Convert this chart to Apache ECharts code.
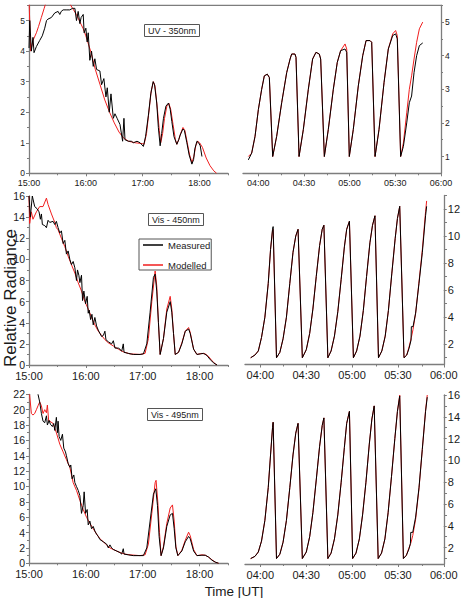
<!DOCTYPE html>
<html>
<head>
<meta charset="utf-8">
<script src="https://cdn.jsdelivr.net/npm/echarts@6/dist/echarts.min.js"></script>
<style>
  html, body { margin: 0; padding: 0; background: #fff; }
  #chart { width: 463px; height: 598px; }
</style>
</head>
<body>
<div id="chart"></div>
<script>
// evening passes: [minutes since 00:00 UT, relative radiance]
const uvEveMeas = [[900,4.1],[900.8,5.0],[902.5,4.0],[904.2,4.45],[905.3,3.95],[907.8,4.15],[911.3,4.35],[914,4.5],[916.6,4.75],[918.5,5.0],[920.1,5.05],[923.6,5.1],[927.2,5.25],[930.7,5.3],[932.5,5.2],[934,5.3],[936,5.35],[940,5.35],[943,5.35],[946,5.4],[948.4,5.4],[950.1,5.0],[951.9,5.3],[953.7,4.9],[955,5.1],[957.2,5.2],[958.2,4.6],[960,4.75],[961.4,4.3],[962.5,4.6],[964.2,3.7],[966,4.0],[967.8,3.5],[969.5,3.75],[971.3,3.4],[974.8,3.35],[976.6,2.9],[979,3.1],[981.2,2.5],[982.6,2.8],[984.7,2.0],[986.5,2.6],[989,1.8],[990.7,1.95],[993,1.8],[996,1.6],[998.8,1.05],[1000.2,1.8],[1001.3,1.1],[1004.8,1.05],[1008,1.05],[1010.1,1.0],[1014,1.05],[1017.2,1.0],[1020.7,0.88],[1023,1.2],[1026,1.9],[1028.5,2.6],[1031,3.0],[1032.5,2.9],[1034.8,2.3],[1036.5,1.5],[1038.4,0.9],[1040,1.3],[1041.9,1.8],[1044.5,2.2],[1047.2,2.3],[1049,2.1],[1050.7,1.7],[1053,1.2],[1056,0.95],[1058,1.1],[1059.5,1.25],[1062.4,1.45],[1064,1.4],[1066.6,1.0],[1069,0.6],[1071.9,0.3],[1073.7,0.45],[1075,0.8],[1077.2,1.05],[1079,1.0],[1080.7,0.9],[1082.5,0.55]];
const uvEveModel = [[900,5.7],[901.8,4.0],[904.2,4.35],[907.8,4.6],[910,4.8],[913,5.1],[916,5.4],[918,5.6],[930,6.3],[942,5.6],[946,5.4],[950,5.2],[953,5.0],[957,4.75],[960,4.5],[965,4.0],[970,3.4],[975,2.9],[980,2.4],[985,2.0],[990,1.65],[995,1.35],[1000,1.15],[1005,1.05],[1012,1.0],[1020,0.97],[1021.5,0.95],[1024,1.3],[1026.5,2.0],[1029,2.7],[1031.3,3.0],[1033,2.85],[1035.5,2.1],[1037.5,1.4],[1039,1.0],[1041,1.3],[1043,1.8],[1045.5,2.2],[1047.5,2.3],[1049.5,2.1],[1052,1.6],[1054.5,1.1],[1056,0.95],[1058,1.1],[1060,1.3],[1062.5,1.5],[1064.5,1.4],[1067,1.0],[1069.5,0.6],[1072,0.35],[1074,0.55],[1076,0.9],[1078,1.05],[1080,1.0],[1083,0.85],[1087,0.5],[1091,0.25],[1095,0.08],[1098,0.0]];

const vis450EveMeas = [[900,16.0],[901.4,14.0],[903.5,16.0],[906,15.0],[908.5,14.8],[910.6,14.5],[912,13.8],[913.1,14.3],[914.1,13.3],[916.6,13.2],[918.4,13.0],[920.1,13.7],[921.9,13.5],[925.4,13.6],[927.2,13.3],[928.9,13.6],[930.7,13.0],[932.5,12.5],[934.2,12.7],[936,11.5],[937.8,11.8],[939.5,10.5],[941.3,10.8],[943.1,10.0],[944.8,9.5],[946.6,9.8],[948.4,9.2],[950.1,8.0],[951.2,9.0],[952.6,8.5],[953.7,7.8],[955.4,8.5],[956.5,6.1],[957.9,7.0],[959.7,5.8],[961.4,6.5],[962.5,4.9],[963.5,5.2],[965,4.3],[966.4,4.8],[967.8,3.8],[969.5,4.5],[971.3,3.7],[973.1,3.3],[974.8,3.0],[976.6,2.7],[978.5,2.8],[980.1,3.2],[981.2,2.4],[983.7,2.2],[987.2,2.0],[989,2.3],[990.7,1.6],[994.3,1.6],[996,1.5],[997.8,1.3],[999.5,2.0],[1000.3,1.2],[1004.8,1.1],[1010.1,1.0],[1017.2,1.0],[1020.7,1.05],[1024.3,2.0],[1027.8,5.0],[1031.3,8.3],[1033.1,8.6],[1034.8,7.0],[1036.6,4.0],[1038.4,1.0],[1041.9,2.5],[1045.4,5.0],[1049,6.0],[1050.7,5.0],[1052.5,3.0],[1054.3,1.0],[1057.8,1.2],[1061.3,2.0],[1064.9,3.2],[1068.4,3.4],[1070.1,3.0],[1073.7,1.5],[1077.2,1.0],[1080.7,1.05],[1084.3,1.1],[1087.8,0.9],[1091.3,0.5],[1094.9,0.2],[1098.4,0.0]];
const vis450EveModel = [[900,16.0],[900.7,13.4],[902.5,14.5],[904.2,13.8],[907.8,14.5],[911.3,15.0],[914.8,15.0],[918.4,15.8],[920.1,15.2],[923.7,14.3],[927.2,13.5],[928.9,13.0],[930.7,12.8],[934.2,12.0],[937.8,11.2],[941.3,10.3],[944.8,9.5],[948.4,8.7],[951.9,7.8],[955.4,7.0],[959,6.0],[962.5,5.3],[966,4.5],[969.5,3.8],[973.1,3.2],[976.6,2.8],[980.1,2.4],[983.7,2.1],[989,1.8],[994.3,1.5],[999.5,1.25],[1006.6,1.05],[1017.2,1.0],[1022.5,1.1],[1026,2.5],[1029.6,6.0],[1033.1,8.9],[1034.8,7.5],[1036.6,4.0],[1038.4,1.0],[1041.9,2.5],[1045.4,5.3],[1049,6.5],[1050.7,5.3],[1052.5,3.0],[1054.3,1.0],[1057.8,1.2],[1061.3,2.1],[1064.9,3.2],[1068.4,3.55],[1070.1,3.1],[1073.7,1.5],[1077.2,1.0],[1082.5,1.1],[1086,1.05],[1089.6,0.8],[1093.1,0.4],[1096.6,0.1],[1098.4,0.0]];

const vis495EveMeas = [[909.5,22.0],[911.3,21.0],[913.1,19.5],[914.8,18.5],[916.6,18.3],[918.4,19.2],[919.4,18.0],[921.2,18.6],[922.6,18.1],[924.7,17.8],[926.1,18.2],[927.2,17.3],[928.9,19.0],[930,17.0],[930.7,18.5],[931.8,16.5],[933.5,16.0],[935.3,16.8],[936.7,15.0],[938.5,14.5],[939.5,14.0],[941.3,13.0],[943.1,12.5],[944.1,12.8],[945.5,11.0],[947.3,11.5],[948.4,10.5],[950.1,10.0],[951.9,9.5],[953.7,8.8],[955.4,6.5],[957.2,7.5],[958.2,9.3],[959.7,6.5],[961.4,7.0],[962.5,5.0],[964.2,5.5],[966,4.5],[967.8,4.8],[969.5,4.2],[971.3,3.8],[973.1,3.5],[974.8,3.1],[978.4,2.8],[981.9,2.5],[983.7,2.0],[985.4,2.4],[987.2,2.0],[989,1.8],[992.5,1.6],[996,1.4],[997.8,1.2],[999.5,1.9],[1000.3,1.2],[1004.8,1.1],[1010.1,1.0],[1020.7,1.0],[1024.3,2.0],[1027.8,5.5],[1031.3,9.0],[1033.8,9.7],[1035.6,7.5],[1037.3,3.5],[1039.4,1.0],[1041.9,2.0],[1045.4,4.8],[1049,6.3],[1051.4,6.5],[1053.2,4.5],[1055,2.0],[1057.1,1.0],[1061.3,1.6],[1064.9,2.8],[1068.4,3.5],[1070.1,3.2],[1073.7,1.6],[1077.2,1.0],[1082.5,1.05],[1086,1.05],[1089.6,0.8],[1093.1,0.4],[1096.6,0.15],[1100.1,0.0]];
const vis495EveModel = [[900,22.0],[900.7,21.9],[902.5,19.5],[904.2,19.3],[906,19.5],[907.8,20.0],[909.5,20.5],[911.3,21.0],[913.1,20.5],[914.8,19.5],[916.6,20.0],[918.4,19.6],[919.4,20.6],[920.8,18.5],[921.9,18.5],[925.4,18.2],[928.9,17.0],[932.5,15.5],[936,14.5],[939.5,13.5],[943.1,12.5],[946.6,10.5],[950.1,9.5],[953.7,8.2],[957.2,7.0],[960.7,6.0],[964.2,5.2],[967.8,4.5],[971.3,3.8],[974.8,3.2],[978.4,2.8],[981.9,2.4],[985.4,2.0],[990.7,1.7],[996,1.4],[1001.3,1.2],[1006.6,1.1],[1017.2,1.0],[1022.5,1.1],[1026,2.5],[1029.6,6.5],[1033.1,10.5],[1034.1,10.8],[1035.9,8.0],[1037.7,4.0],[1039.4,1.0],[1041.9,2.2],[1045.4,5.2],[1049,7.2],[1051.4,7.6],[1053.2,5.5],[1055,2.2],[1057.1,1.0],[1061.3,1.7],[1064.9,3.0],[1068.4,4.05],[1070.1,3.6],[1073.7,1.8],[1077.2,1.0],[1082.5,1.1],[1086,1.05],[1089.6,0.8],[1093.1,0.45],[1096.6,0.15],[1100.1,0.0]];

// morning passes: shared time (minutes since 00:00 UT) per panel
const uvMornT = [233.5,235.7,237.9,240.1,242.25,244.0,245.97,247.3,249.5,252.1,255.4,258.7,260.9,261.95,264.1,264.8,266.8,269.6,272.9,275.7,277.9,280.1,281.0,283.4,286.0,289.3,291.9,294.1,297.0,298.1,299.8,302.4,305.7,308.6,310.8,313.4,314.5,316.7,319.3,322.6,325.4,328.3,330.2,331.3,333.5,335.3,337.5,339.2,340.7,342.3,344.0,345.8,348.0];
const uvMornMeas = [0.9,1.1,1.6,2.4,3.0,3.4,3.45,3.35,1.0,1.6,2.6,3.5,3.9,4.05,4.05,3.95,1.0,1.8,3.0,3.9,4.1,4.05,3.9,1.0,1.8,3.0,3.8,4.15,4.2,4.1,1.0,1.8,3.1,4.0,4.45,4.45,4.4,1.0,1.8,3.2,4.2,4.6,4.65,4.5,1.0,1.3,2.0,2.6,2.8,3.5,4.0,4.3,4.38];
const uvMornModel = [1.0,1.1,1.6,2.4,3.0,3.4,3.45,3.35,1.0,1.6,2.6,3.5,3.9,4.05,4.05,3.95,1.0,1.8,3.0,3.9,4.1,4.05,3.9,1.0,1.8,3.0,3.8,4.15,4.35,4.2,1.0,1.8,3.1,4.0,4.45,4.45,4.4,1.0,1.8,3.2,4.2,4.65,4.75,4.6,1.0,1.4,2.3,3.0,3.4,3.9,4.4,4.8,5.0];

const vis450MornT = [233.7,236.5,238.7,240.8,243.0,245.2,246.7,248.0,248.4,250.6,252.8,254.9,257.1,259.3,261.4,263.2,264.7,267.5,270.1,272.3,274.4,276.6,278.8,280.5,281.6,284.2,286.3,288.5,290.7,292.9,295.0,296.5,298.3,300.9,303.0,305.2,307.4,309.5,311.7,313.4,315.0,317.3,319.5,321.7,323.8,326.0,328.2,329.7,331.2,334.0,335.8,337.3,338.6,338.8,339.9,341.6,343.8,346.0,348.1,348.8];
const vis450MornMeas = [1.0,1.2,1.5,2.5,4.0,6.5,9.0,10.5,10.7,1.0,1.4,2.4,4.0,6.5,8.8,10.0,10.5,1.0,1.6,2.8,4.6,7.0,9.3,10.5,10.8,1.0,1.5,2.6,4.4,6.8,9.2,10.5,11.1,1.0,1.5,2.6,4.5,7.0,9.5,10.8,11.5,1.0,1.5,2.6,4.5,7.2,9.8,11.3,12.2,1.0,1.2,1.7,2.3,3.3,3.3,4.3,6.5,8.8,11.5,12.2];
const vis450MornModel = [1.0,1.2,1.5,2.5,4.0,6.5,9.0,10.4,10.5,1.0,1.4,2.4,4.0,6.5,8.8,10.0,10.5,1.0,1.6,2.8,4.6,7.0,9.3,10.5,10.8,1.0,1.5,2.6,4.4,6.8,9.2,10.5,11.1,1.0,1.5,2.6,4.5,7.0,9.5,10.8,11.5,1.0,1.5,2.6,4.5,7.2,9.8,11.3,12.2,1.0,1.2,1.8,2.4,2.5,3.1,4.3,6.6,9.0,11.8,12.6];

const vis495MornT = [233.7,236.5,238.7,240.8,243.0,245.2,246.7,248.0,248.4,250.6,252.8,254.9,257.1,259.3,261.4,263.2,264.7,267.5,270.1,272.3,274.4,276.6,278.8,280.5,281.6,284.2,286.3,288.5,290.7,292.9,295.0,296.5,298.3,300.4,302.6,304.8,306.9,309.1,311.3,313.0,314.5,317.1,319.3,321.5,323.6,325.8,328.0,329.7,331.2,333.6,335.55,337.3,338.2,338.4,339.7,341.6,343.8,345.95,348.1,349.2];
const vis495MornMeas = [1.0,1.2,1.6,2.6,4.5,7.5,10.5,13.0,13.5,1.0,1.4,2.5,4.5,7.5,10.5,12.5,13.4,1.0,1.6,3.0,5.2,8.2,11.3,13.2,13.9,1.0,1.5,2.8,5.0,8.0,11.2,13.4,14.5,1.0,1.5,2.8,5.0,8.0,11.5,13.8,15.0,1.0,1.5,2.8,5.2,8.5,12.0,14.5,15.9,1.0,1.3,1.9,2.4,3.4,3.4,4.8,7.5,11.0,14.5,15.8];
const vis495MornModel = [1.0,1.2,1.6,2.6,4.5,7.5,10.5,13.0,13.5,1.0,1.4,2.5,4.5,7.5,10.5,12.5,13.4,1.0,1.6,3.0,5.2,8.2,11.3,13.2,13.9,1.0,1.5,2.8,5.0,8.0,11.2,13.4,14.5,1.0,1.5,2.8,5.0,8.0,11.5,13.8,15.0,1.0,1.5,2.8,5.2,8.5,12.0,14.5,16.0,1.0,1.3,2.0,2.3,2.4,3.1,4.6,7.4,11.0,14.6,16.0];

// tick positions / labels
const eveTicks = [900, 960, 1020, 1080];
const eveMinor = [930, 990, 1050, 1110];
const mornTicks = [240, 270, 300, 330, 360];
const mornMinor = [255, 285, 315, 345];
const uvEveY = [0, 1, 2, 3, 4, 5];
const uvEveYMinor = [0.5, 1.5, 2.5, 3.5, 4.5, 5.5];
const uvMornY = [1, 2, 3, 4, 5];
const uvMornYMinor = [1.5, 2.5, 3.5, 4.5, 5.5];
const vis450EveY = [0, 2, 4, 6, 8, 10, 12, 14, 16];
const vis450EveYMinor = [1, 3, 5, 7, 9, 11, 13, 15];
const vis450MornY = [2, 4, 6, 8, 10, 12];
const vis450MornYMinor = [1, 3, 5, 7, 9, 11, 13];
const vis495EveY = [0, 2, 4, 6, 8, 10, 12, 14, 16, 18, 20, 22];
const vis495EveYMinor = [1, 3, 5, 7, 9, 11, 13, 15, 17, 19, 21];
const vis495MornY = [2, 4, 6, 8, 10, 12, 14, 16];
const vis495MornYMinor = [1, 3, 5, 7, 9, 11, 13, 15];

const titles = ['UV - 350nm', 'Vis - 450nm', 'Vis - 495nm'];

const FONT = "'Liberation Sans', Arial, Helvetica, sans-serif";
const AXIS = '#7d7d7d';
const TXT = '#1a1a1a';

function hhmm (v) {
  const h = Math.floor(v / 60), m = Math.round(v % 60);
  return (h < 10 ? '0' : '') + h + ':' + (m < 10 ? '0' : '') + m;
}
const zip = (t, v) => t.map((x, i) => [x, v[i]]);

const panels = [
  { grid: { left: 29, top: 5.3, width: 199, height: 168 }, x: [900, 1110], y: [0, 5.5], side: 'left',
    xt: eveTicks, xm: eveMinor, yt: uvEveY, ym: uvEveYMinor, xs: 9, ys: 8.5, meas: uvEveMeas, model: uvEveModel },
  { grid: { left: 243, top: 5.3, width: 198, height: 168 }, x: [230, 360], y: [0.5, 5.5], side: 'right',
    xt: mornTicks, xm: mornMinor, yt: uvMornY, ym: uvMornYMinor, xs: 9, ys: 8.5,
    meas: zip(uvMornT, uvMornMeas), model: zip(uvMornT, uvMornModel) },
  { grid: { left: 29, top: 196, width: 199, height: 169 }, x: [900, 1110], y: [0, 16], side: 'left',
    xt: eveTicks, xm: eveMinor, yt: vis450EveY, ym: vis450EveYMinor, xs: 11, ys: 10.5, meas: vis450EveMeas, model: vis450EveModel },
  { grid: { left: 245, top: 195.5, width: 200, height: 169 }, x: [230, 360], y: [0.5, 13], side: 'right',
    xt: mornTicks, xm: mornMinor, yt: vis450MornY, ym: vis450MornYMinor, xs: 11, ys: 11,
    meas: zip(vis450MornT, vis450MornMeas), model: zip(vis450MornT, vis450MornModel) },
  { grid: { left: 29, top: 394.3, width: 199, height: 169 }, x: [900, 1110], y: [0, 22], side: 'left',
    xt: eveTicks, xm: eveMinor, yt: vis495EveY, ym: vis495EveYMinor, xs: 11, ys: 10.5, meas: vis495EveMeas, model: vis495EveModel },
  { grid: { left: 245, top: 395, width: 200, height: 169 }, x: [230, 360], y: [0.5, 16], side: 'right',
    xt: mornTicks, xm: mornMinor, yt: vis495MornY, ym: vis495MornYMinor, xs: 11, ys: 11,
    meas: zip(vis495MornT, vis495MornMeas), model: zip(vis495MornT, vis495MornModel) }
];

const grid = [], xAxis = [], yAxis = [], series = [];
const n = panels.length;

panels.forEach((p, i) => {
  grid[i] = p.grid;
  grid[i + n] = p.grid; // overlay for the minor ticks

  xAxis[i] = {
    type: 'value', gridIndex: i, min: p.x[0], max: p.x[1],
    axisLine: { show: true, onZero: false, lineStyle: { color: AXIS, width: 1.3 } },
    axisTick: { show: true, customValues: p.xt, length: 3, lineStyle: { color: AXIS, width: 1 } },
    axisLabel: { customValues: p.xt, formatter: hhmm, margin: 5, color: TXT, fontSize: p.xs,
      lineHeight: p.xs, fontFamily: FONT },
    splitLine: { show: false }
  };
  yAxis[i] = {
    type: 'value', gridIndex: i, min: p.y[0], max: p.y[1], position: p.side,
    axisLine: { show: true, onZero: false, lineStyle: { color: AXIS, width: 1.3 } },
    axisTick: { show: true, customValues: p.yt, length: 3, lineStyle: { color: AXIS, width: 1 } },
    axisLabel: { customValues: p.yt, margin: 4, color: TXT, fontSize: p.ys,
      lineHeight: Math.round(p.ys * 0.75), fontFamily: FONT },
    splitLine: { show: false }
  };
  xAxis[i + n] = {
    type: 'value', gridIndex: i + n, min: p.x[0], max: p.x[1],
    axisLine: { show: false, onZero: false },
    axisTick: { show: true, customValues: p.xm, length: 2, lineStyle: { color: AXIS, width: 1 } },
    axisLabel: { show: false }, splitLine: { show: false }
  };
  yAxis[i + n] = {
    type: 'value', gridIndex: i + n, min: p.y[0], max: p.y[1], position: p.side,
    axisLine: { show: false, onZero: false },
    axisTick: { show: true, customValues: p.ym, length: 2, lineStyle: { color: AXIS, width: 1 } },
    axisLabel: { show: false }, splitLine: { show: false }
  };

  // modelled drawn first, measured on top
  series.push({
    name: 'Modelled', type: 'line', xAxisIndex: i, yAxisIndex: i, data: p.model,
    showSymbol: false, color: '#f01e1e', lineStyle: { color: '#f01e1e', width: 1 }, clip: true
  });
  series.push({
    name: 'Measured', type: 'line', xAxisIndex: i, yAxisIndex: i, data: p.meas,
    showSymbol: false, color: '#000', lineStyle: { color: '#000', width: 1 }, clip: true
  });
});

const titleBox = { borderColor: '#555', borderWidth: 1, padding: [2, 4, 2, 4],
  textStyle: { fontSize: 9, fontWeight: 'normal', color: TXT, fontFamily: FONT } };

const chart = echarts.init(document.getElementById('chart'), null, { renderer: 'svg' });
chart.setOption({
  animation: false,
  backgroundColor: '#fff',
  title: [
    Object.assign({ text: titles[0], left: 144, top: 24 }, titleBox),
    Object.assign({ text: titles[1], left: 148, top: 213 }, titleBox),
    Object.assign({ text: titles[2], left: 147, top: 408 }, titleBox)
  ],
  legend: {
    data: ['Measured', 'Modelled'],
    orient: 'vertical', left: 139, top: 239,
    borderColor: '#555', borderWidth: 1, padding: [1, 1, 0, 4],
    itemGap: 10, itemWidth: 20, itemHeight: 1.5, icon: 'rect',
    textStyle: { fontSize: 9.5, lineHeight: 10, color: TXT, fontFamily: FONT }
  },
  grid: grid,
  xAxis: xAxis,
  yAxis: yAxis,
  series: series,
  graphic: [
    { type: 'line', shape: { x1: 29, y1: 5.3, x2: 442, y2: 5.3 }, style: { stroke: AXIS, lineWidth: 1.3 } },
    { type: 'text', x: 10, y: 298, rotation: Math.PI / 2,
      style: { text: 'Relative Radiance', fontSize: 17, fontFamily: FONT, fill: TXT, textAlign: 'center', textVerticalAlign: 'middle' } },
    { type: 'text', x: 234, y: 591,
      style: { text: 'Time [UT]', fontSize: 13.5, fontFamily: FONT, fill: TXT, textAlign: 'center', textVerticalAlign: 'middle' } }
  ]
});
</script>
</body>
</html>
